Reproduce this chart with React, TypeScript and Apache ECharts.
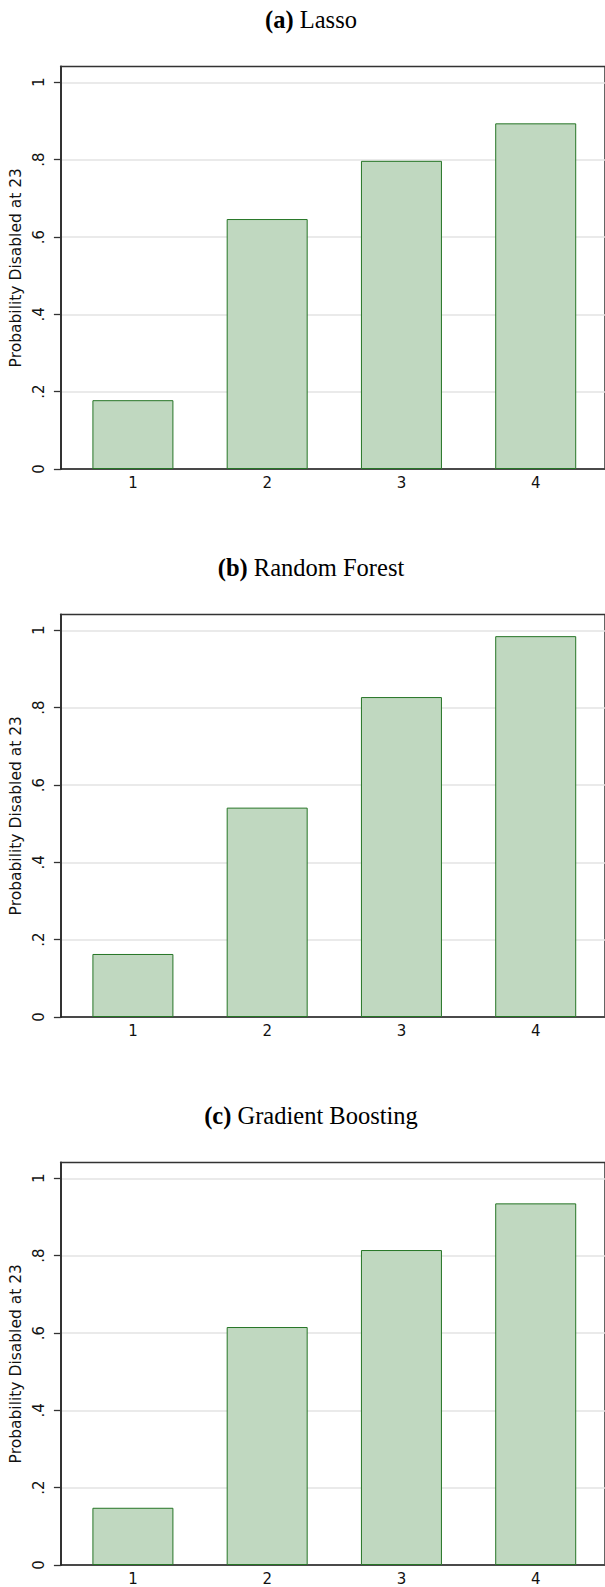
import React, { useEffect, useRef } from "react";
import * as echarts from "echarts";

const CATEGORIES = [1, 2, 3, 4];
const LASSO = [0.178, 0.6465, 0.797, 0.894];
const RANDOM_FOREST = [0.163, 0.5415, 0.8275, 0.985];
const GRADIENT_BOOSTING = [0.148, 0.6155, 0.8146, 0.9353];
const Y_TICKS = [0, 0.2, 0.4, 0.6, 0.8, 1];
const Y_TICK_LABELS = ["0", ".2", ".4", ".6", ".8", "1"];
const PANEL_TAGS = ["(a)", "(b)", "(c)"];
const PANEL_NAMES = ["Lasso", "Random Forest", "Gradient Boosting"];
const Y_TITLE = "Probability Disabled at 23";

const W = 605;
const H = 1587;
const STEP = 548;
const GRID_TOP = 66.5;
const GRID_H = 402.5;
const GRID_W = 552;
const TITLE_Y = 19.5;
const AXIS_LEFT = 57;
const X_MIN = 0.4637;
const X_MAX = 4.516;
const Y_MAX = 1.041;

const SANS = "DejaVu Sans";
const SERIF = "Liberation Serif";

export default function App() {
  const ref = useRef<HTMLDivElement>(null);
  useEffect(() => {
    if (!ref.current) return;
    const chart = echarts.init(ref.current, null, { renderer: "svg" });
    const panels = [LASSO, RANDOM_FOREST, GRADIENT_BOOSTING];
    const fmtY = (v: number) => {
      const r = Math.round(v * 10) / 10;
      const i = Y_TICKS.findIndex((t) => Math.abs(t - r) < 1e-6);
      return i >= 0 ? Y_TICK_LABELS[i] : "";
    };
    const option: any = {
      animation: false,
      backgroundColor: "#ffffff",
      title: panels.map((_, k) => ({
        text: `{b|${PANEL_TAGS[k]}} ${PANEL_NAMES[k]}`,
        left: 311,
        top: TITLE_Y + k * STEP - 13,
        textAlign: "center",
        padding: 0,
        textStyle: {
          fontFamily: SERIF,
          fontSize: 24.5,
          fontWeight: "normal",
          color: "#000",
          lineHeight: 26,
          rich: {
            b: { fontFamily: SERIF, fontSize: 24.5, fontWeight: "bold", color: "#000", lineHeight: 26 },
          },
        },
      })),
      grid: panels.map((_, k) => ({
        left: AXIS_LEFT,
        width: GRID_W,
        top: GRID_TOP + k * STEP,
        height: GRID_H,
        show: true,
        borderColor: "#333",
        borderWidth: 1.5,
        backgroundColor: "transparent",
        containLabel: false,
      })),
      xAxis: panels.map((_, k) => ({
        type: "value",
        gridIndex: k,
        min: X_MIN,
        max: X_MAX,
        axisLine: { show: true, lineStyle: { color: "#222", width: 1.5 } },
        axisTick: { show: false },
        splitLine: { show: false },
        axisLabel: {
          customValues: CATEGORIES,
          margin: 6,
          fontFamily: SANS,
          fontSize: 15,
          color: "#111",
          formatter: (v: number) => String(Math.round(v)),
        },
      })),
      yAxis: panels.map((_, k) => ({
        type: "value",
        gridIndex: k,
        min: 0,
        max: Y_MAX,
        interval: 0.2,
        name: Y_TITLE,
        nameLocation: "middle",
        nameGap: 27,
        nameRotate: 90,
        nameTextStyle: { fontFamily: SANS, fontSize: 15.5, color: "#111" },
        axisLine: { show: true, lineStyle: { color: "#333", width: 2 } },
        axisTick: {
          show: true,
          length: 7,
          customValues: Y_TICKS,
          lineStyle: { color: "#333", width: 1.3 },
        },
        splitLine: { show: true, lineStyle: { color: "#e3e3e3", width: 1.5 } },
        axisLabel: {
          customValues: Y_TICKS,
          rotate: 90,
          margin: 14,
          fontFamily: SANS,
          fontSize: 15,
          color: "#111",
          formatter: fmtY,
        },
      })),
      series: panels.map((vals, k) => ({
        type: "bar",
        xAxisIndex: k,
        yAxisIndex: k,
        barWidth: 81,
        data: CATEGORIES.map((c, i) => [c, vals[i]]),
        itemStyle: { color: "#c0d8c0", borderColor: "#267526", borderWidth: 1 },
      })),
    };
    chart.setOption(option);
    return () => chart.dispose();
  }, []);
  return (
    <div
      ref={ref}
      style={{ position: "absolute", left: 0, top: 0, width: W, height: H }}
    />
  );
}
